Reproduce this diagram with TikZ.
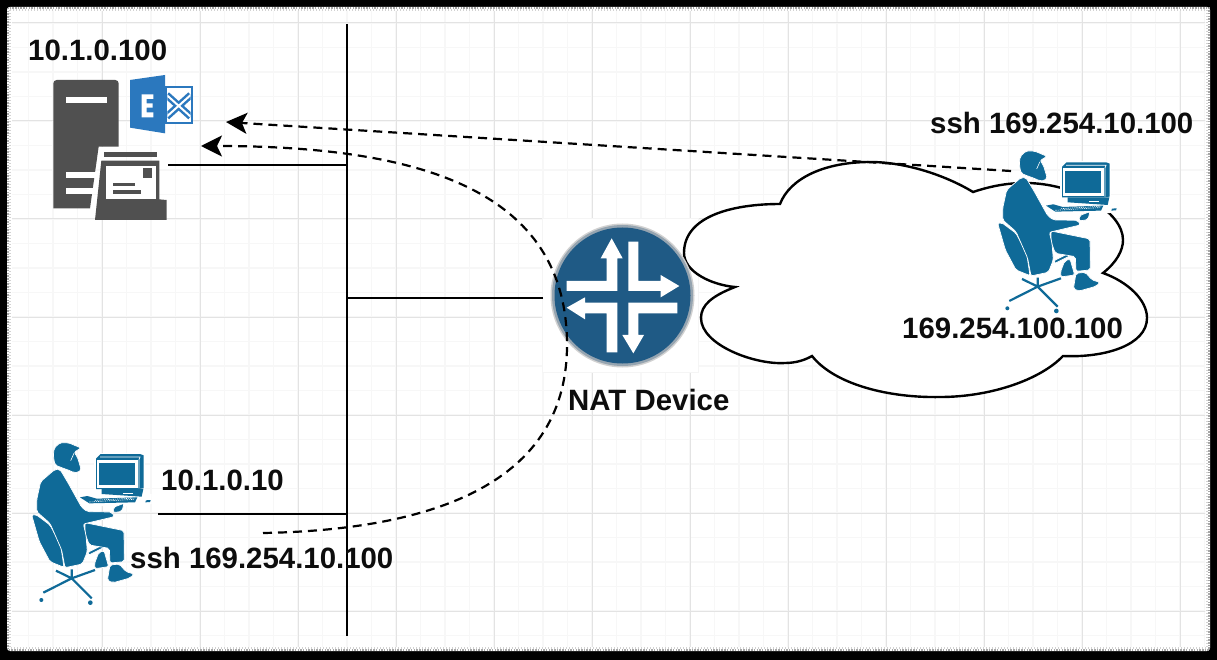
\documentclass[tikz,border=0pt]{standalone}
\usepackage{fontspec}
\setmainfont{Liberation Sans}
\usetikzlibrary{arrows.meta}
\definecolor{personblue}{HTML}{0F6A98}
\definecolor{serverdark}{HTML}{505050}
\definecolor{exblue}{HTML}{2B78BE}
\definecolor{natblue}{HTML}{1F5A85}
\tikzset{
  label text/.style={anchor=base west,inner sep=0pt,font=\fontsize{29.4}{32}\selectfont\bfseries,text=black!95},
  wire/.style={line width=2.7pt,draw=black},
  dashwire/.style={line width=2.2pt,draw=black,dash pattern=on 9pt off 6pt,
     -{Stealth[length=21pt,width=21pt,inset=5pt]}},
  part/.style={fill=personblue,draw=white,line width=.7pt,rounded corners=2pt},
  natwhite/.style={fill=white,draw=none},
  person/.pic={
    \begin{scope}[scale=.33333]
      % white backing of monitor and keyboard
      \fill[white] (283,98) rectangle (436,224);
      \fill[white] (236,222) -- (455,222) -- (455,252) -- (340,262) -- (236,250) -- cycle;
      % chair
      \path[part] (95,285) -- (107,283) -- (150,315) -- (182,375) -- (192,442) -- (150,425) -- (118,365) -- cycle;
      \path[part] (262,398) -- (318,370) -- (321,378) -- (265,406) -- cycle;
      \draw[personblue,line width=2.2pt] (215,475) -- (130,518) (215,475) -- (275,535) (215,475) -- (285,450) (215,475) -- (215,448) (215,475) -- (168,452);
      \fill[personblue] (124,540) circle (6) (271,548) circle (7);
      % rear foot, leg, front foot
      \path[part] (296,398) -- (312,392) -- (326,440) -- (285,446) -- (283,432) -- cycle;
      \path[part] (255,308) -- (372,332) -- (373,425) -- (330,429) -- (328,385) -- (268,375) -- (255,340) -- cycle;
      \path[part] (330,435) -- (358,432) -- (378,455) -- (402,462) -- (390,474) -- (340,488) -- (322,482) -- cycle;
      % torso
      \path[part] (165,148) -- (180,148) -- (205,190) -- (245,262) -- (262,275) -- (335,276) -- (343,290) -- (250,312) -- (258,345) -- (262,395) -- (247,432) -- (195,443) -- (185,390) -- (150,310) -- (110,275) -- (110,240) -- (122,185) -- cycle;
      % head
      \path[part] (160,110) -- (162,85) -- (180,68) -- (205,68) -- (243,84) -- (222,97) -- (232,110) -- (244,150) -- (235,157) -- (222,158) -- (205,150) -- (190,145) -- (165,135) -- cycle;
      \draw[white,line width=.6pt] (212,122) -- (222,100);
      % hand
      \path[part] (340,262) -- (372,250) -- (366,274) -- (340,278) -- cycle;
      % monitor
      \fill[personblue] (288,116) -- (302,102) -- (420,102) -- (431,106) -- (431,205) -- (415,207) -- (288,207) -- cycle;
      \fill[white] (292,119) rectangle (413,203);
      \fill[personblue] (298,128) rectangle (406,194);
      \draw[white,line width=.7pt] (300,111) -- (420,111) -- (417,119) (417,119) -- (417,205);
      % keyboard
      \fill[personblue] (305,207) -- (430,207) -- (425,230) -- (305,222) -- cycle;
      \fill[white] (370,218) rectangle (400,222);
      \fill[personblue] (240,232) -- (262,228) -- (290,236) -- (412,232) -- (405,247) -- (268,250) -- cycle;
      \draw[white,line width=.6pt,dash pattern=on 1.2pt off 1pt] (268,246) -- (402,238);
      \draw[white,line width=.6pt,dash pattern=on 1.2pt off 1pt] (285,241) -- (405,234);
      \fill[personblue] (438,241) -- (452,240) -- (450,246) -- (436,247) -- cycle;
    \end{scope}
  }
}
\begin{document}
\begin{tikzpicture}[x=1pt,y=-1pt]
\useasboundingbox (0,0) rectangle (1217,660);
% frame
\fill[black] (0,0) rectangle (1217,660);
\fill[white,rounded corners=3pt] (7,7) rectangle (1210,651);
\draw[gray!70,line width=2pt,dash pattern=on 1.5pt off 1.2pt] (8,8) rectangle (1209,650);
\draw[gray!35,line width=2pt,dash pattern=on 1pt off 2pt] (10,10) rectangle (1207,648);
% grid
\begin{scope}
  \clip (12,12) rectangle (1205,646);
  \foreach \k in {0,...,49} {\draw[black!3,line width=1.4pt] ({4+24.5*\k},0) -- ({4+24.5*\k},660);}
  \foreach \k in {0,...,27} {\draw[black!3,line width=1.4pt] (0,{-1.5+24.5*\k}) -- (1217,{-1.5+24.5*\k});}
  \foreach \k in {0,...,12} {\draw[black!11,line width=1pt] ({4+98*\k},0) -- ({4+98*\k},660);}
  \foreach \k in {0,...,6} {\draw[black!11,line width=1pt] (0,{23+98*\k}) -- (1217,{23+98*\k});}
\end{scope}
% named places
\node[fill=white,draw=black!4,minimum width=156pt,minimum height=154pt,inner sep=0pt] (natbox) at (620,295) {};
\coordinate (busTop) at (347,24);
\coordinate (busBottom) at (347,636);
\coordinate (busServer) at (347,165);
\coordinate (busNat) at (347,298);
\coordinate (busClient) at (347,514);
\coordinate (serverPort) at (168,165);
\coordinate (clientPort) at (158,514);
\coordinate (natPort) at (543,298);
\coordinate (remoteEnd) at (1011,171);
\coordinate (serverTipA) at (226,122);
\coordinate (clientEnd) at (263,533);
\coordinate (serverTipB) at (201,146);
% wires
\draw[wire] (busTop) -- (busBottom);
\draw[wire] (serverPort) -- (busServer);
\draw[wire] (clientPort) -- (busClient);
\draw[wire] (natPort) -- (busNat);
% cloud
\path[fill=white,draw=black,line width=2.4pt,line join=miter]
  (780,204) .. controls (735,204) and (684,215) .. (684,253)
  .. controls (684,272) and (712,285) .. (735,287)
  .. controls (712,296) and (701,305) .. (701,318)
  .. controls (701,345) and (755,365) .. (785,363)
  .. controls (796,363) and (805,360) .. (812,356)
  .. controls (835,385) and (890,398) .. (940,397)
  .. controls (990,397) and (1040,380) .. (1063,356)
  .. controls (1105,358) and (1147,345) .. (1147,318)
  .. controls (1147,300) and (1128,282) .. (1103,273)
  .. controls (1117,262) and (1123,250) .. (1123,240)
  .. controls (1123,212) and (1075,183) .. (1025,183)
  .. controls (1005,183) and (988,187) .. (973,192)
  .. controls (945,175) and (905,162) .. (870,162)
  .. controls (825,162) and (790,178) .. (780,204) -- cycle;
% NAT icon
\node[circle,fill=black!18,minimum size=144pt,inner sep=0pt] (natRing) at (622.5,295.5) {};
\fill[natblue!60!black!45] (natRing.center) circle (70.5);
\node[circle,fill=natblue,minimum size=136pt,inner sep=0pt] (nat) at (622.5,295.5) {};
\begin{scope}[shift={(530,220)},scale=.33333]
  \path[natwhite] (110,183) -- (230,183) -- (230,115) -- (212,115) -- (245,55) -- (278,115) -- (262,115) -- (262,213) -- (110,213) -- cycle;
  \path[natwhite] (295,65) -- (325,65) -- (325,183) -- (392,183) -- (392,165) -- (448,198) -- (392,232) -- (392,213) -- (295,213) -- cycle;
  \path[natwhite] (110,263) -- (165,232) -- (165,248) -- (262,248) -- (262,397) -- (230,397) -- (230,280) -- (165,280) -- (165,298) -- cycle;
  \path[natwhite] (295,248) -- (442,248) -- (442,280) -- (325,280) -- (325,345) -- (342,345) -- (310,400) -- (277,345) -- (295,345) -- cycle;
\end{scope}
% server with inbox and Exchange logo
\begin{scope}[scale=.33333]
  \fill[serverdark] (160,625) -- (160,250) arc[start angle=180,end angle=270,radius=10] -- (346,240)
     arc[start angle=-90,end angle=0,radius=10] -- (356,440) -- (296,440) -- (270,625) -- cycle;
  \fill[white] (197,290) rectangle (320,308);
  \fill[white] (197,517) rectangle (288,535);
  \fill[white] (197,565) rectangle (280,582);
  \fill[white] (296,440) rectangle (356,482);
  \fill[serverdark] (285,660) -- (304,482) -- (478,482) -- (478,598) -- (500,600) -- (500,660) -- cycle;
  \fill[serverdark] (312,456) rectangle (472,472);
  \fill[white] (318,497) rectangle (468,598);
  \fill[serverdark] (428,505) rectangle (456,535);
  \fill[serverdark] (340,549) rectangle (405,559);
  \fill[serverdark] (340,570) rectangle (422,581);
  % Exchange
  \fill[exblue] (495,258) rectangle (578,372);
  \fill[white] (502,265) rectangle (572,365);
  \begin{scope}
    \clip (502,265) rectangle (572,365);
    \draw[exblue,line width=7pt] (500,285) -- (572,350) (500,350) -- (572,285);
    \draw[white,line width=2pt] (500,285) -- (572,350) (500,350) -- (572,285);
  \end{scope}
  \fill[exblue] (390,240) -- (495,225) -- (495,400) -- (390,383) -- cycle;
  \fill[white] (425,283) -- (460,283) -- (460,297) -- (440,297) -- (440,310) -- (458,310) -- (458,323) -- (440,323) -- (440,337) -- (460,337) -- (460,352) -- (425,352) -- cycle;
\end{scope}
% persons
\pic (clientPerson) at (0,420) {person};
\pic (remotePerson) at (966,128.3) {person};
% dashed connectors
\draw[dashwire] (remoteEnd) -- (serverTipA);
\draw[dashwire] (clientEnd) .. controls (420,530) and (567,490) .. (567,345)
   .. controls (567,190) and (420,146) .. (serverTipB);
% labels
\node[label text] (ipServer) at (28,61) {10.1.0.100};
\node[label text] (ipClient) at (161,490) {10.1.0.10};
\node[label text] (sshClient) at (130,568) {ssh 169.254.10.100};
\node[label text] (natLabel) at (568,410) {NAT Device};
\node[label text] (sshRemote) at (930,134) {ssh 169.254.10.100};
\node[label text] (ipRemote) at (902,338) {169.254.100.100};
\end{tikzpicture}
\end{document}
